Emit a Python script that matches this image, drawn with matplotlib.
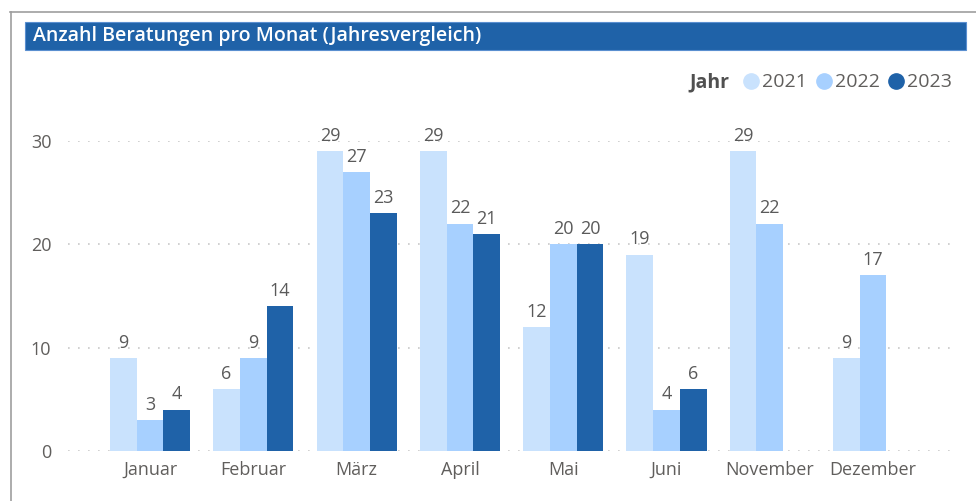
import matplotlib
matplotlib.use("Agg")
import matplotlib.pyplot as plt
from matplotlib.patches import Rectangle
from matplotlib.lines import Line2D
import numpy as np

months = ["Januar", "Februar", "März", "April", "Mai", "Juni", "November", "Dezember"]
years = ["2021", "2022", "2023"]
v2021 = [9, 6, 29, 29, 12, 19, 29, 9]
v2022 = [3, 9, 27, 22, 20, 4, 22, 17]
v2023 = [4, 14, 23, 21, 20, 6, None, None]
yticks = [0, 10, 20, 30]
colors = ["#C9E2FD", "#A7D0FF", "#1F62A8"]

plt.rcParams['font.family'] = ['Open Sans', 'DejaVu Sans']

W, H = 976, 501
fig = plt.figure(figsize=(W / 100, H / 100), dpi=100)

def fx(px):
    return px / W

def fy(py):
    return 1 - py / H

# outer border (top and left)
fig.add_artist(Line2D([fx(10), fx(976)], [fy(11.5), fy(11.5)], color="#9E9E9E", lw=1.2))
fig.add_artist(Line2D([fx(10.5), fx(10.5)], [fy(11.5), fy(501)], color="#9E9E9E", lw=1.2))

# title bar
fig.add_artist(Rectangle((fx(25), fy(50)), fx(966) - fx(25), fy(22) - fy(50),
                         facecolor="#1F62A8", edgecolor="#5A8FD0", lw=0.8))
fig.text(fx(33), fy(36.5), "Anzahl Beratungen pro Monat (Jahresvergleich)",
         color="white", fontsize=14, fontweight="semibold", va="center", ha="left")

# axes
left_px, right_px = 68, 957
bot_px, top_px = 451, 141
ax = fig.add_axes([fx(left_px), fy(bot_px), fx(right_px) - fx(left_px), fy(top_px) - fy(bot_px)])
x = np.arange(len(months))
spacing = 103.3
xl = (left_px - 150) / spacing
xr = (right_px - 150) / spacing
ax.set_xlim(xl, xr)
ax.set_ylim(0, 30)

bw = 26.7 / spacing
series = [v2021, v2022, v2023]
for i, (vals, c) in enumerate(zip(series, colors)):
    xs = [xi + (i - 1) * bw for xi, v in zip(x, vals) if v is not None]
    vs = [v for v in vals if v is not None]
    ax.bar(xs, vs, width=bw, color=c, zorder=2)
    for xx, vv in zip(xs, vs):
        ax.text(xx, vv + 0.6, str(vv), ha="center", va="bottom", fontsize=13,
                color="#5A5A5A", clip_on=False)

for t in yticks:
    ax.axhline(t, color="#C8C8C8", lw=1.2, ls=(0, (1, 5)), zorder=1)

ax.set_yticks(yticks)
ax.set_xticks(x)
ax.set_xticklabels(months)
ax.tick_params(axis="both", length=0, labelsize=13, colors="#605E5C")
ax.tick_params(axis="y", pad=12)
ax.tick_params(axis="x", pad=7)
for s in ax.spines.values():
    s.set_visible(False)
ax.patch.set_alpha(0)

# legend
fig.text(fx(689), fy(82), "Jahr", fontsize=14, fontweight="bold", color="#505050",
         va="center", ha="left")
lx = [751, 824, 896]
for px, yr, c in zip(lx, years, colors):
    fig.add_artist(Line2D([fx(px)], [fy(81)], marker="o", markersize=11,
                          color=c, linestyle="none"))
    fig.text(fx(px + 11), fy(82), yr, fontsize=14, color="#605E5C", va="center", ha="left")

fig.savefig("out.png", dpi=100)
